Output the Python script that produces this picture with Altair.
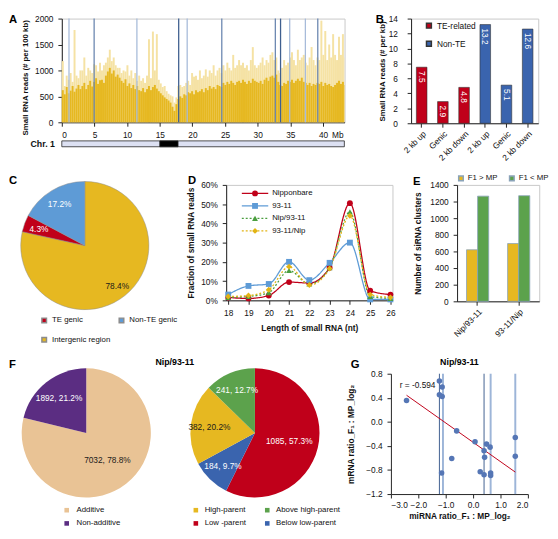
import altair as alt
import pandas as pd

FONT = "Liberation Sans"
FS = 8.5
RED = "#C0001A"
BLUE = "#3A64AE"
LBLUE = "#5E9BD6"
GOLD = "#E6B821"
PALE = "#F5E2A4"
GREEN = "#5CA24C"
PURPLE = "#5B2D82"
TAN = "#E9C395"
DOT = "#5576B5"

# ---------------- Panel A data (300 kb bins along Chr. 1) ----------------
bin_mb = 0.3
chr_len = 43.27
cen_start, cen_end = 15.0, 17.8
chr1_dark = [
    620, 540, 680, 560, 610, 700, 590, 650, 720, 640,
    700, 760, 640, 720, 800, 690, 780, 850, 740, 810,
    820, 760, 900, 980, 1050, 940, 1000, 880, 920, 860,
    800, 760, 830, 700, 750, 660, 720, 640, 700, 620,
    600, 660, 580, 640, 700, 620, 680, 720, 650, 600,
    560, 520, 480, 450, 420, 380, 300, 220, 350, 450,
    500, 470, 540, 520, 580, 560, 600, 540, 620, 580,
    600, 640, 580, 660, 620, 700, 650, 680, 640, 720,
    700, 680, 760, 720, 780, 740, 800, 760, 720, 780,
    800, 760, 820, 780, 740, 800, 760, 840, 800, 780,
    760, 800, 740, 820, 860, 800, 880, 900, 860, 920,
    780, 720, 700, 760, 740, 800, 780, 820, 760, 800,
    840, 800, 860, 780, 760, 720, 760, 700, 740, 720,
    760, 740, 780, 700, 760, 720, 740, 700, 680, 720,
    760, 800, 740, 780, 720]
chr1_light = [
    1180, 700, 900, 820, 950, 780, 1780, 900, 850, 1000,
    1000, 1250, 900, 1050, 1000, 950, 1120, 1100, 980, 1150,
    1000, 1100, 1150, 1250, 1400, 1180, 1250, 1100, 1050, 1050,
    950, 1000, 980, 1100, 900, 1000, 850, 950, 800, 900,
    800, 850, 760, 900, 1600, 850, 1750, 1000, 1700, 820,
    750, 680, 700, 600, 550, 520, 500, 380, 480, 700,
    720, 680, 700, 760, 800, 720, 950, 880, 900, 820,
    1000, 850, 900, 1020, 880, 1000, 950, 1100, 900, 1000,
    1050, 950, 1100, 1000, 1150, 1050, 1000, 1300, 1050, 1100,
    1200, 1100, 1150, 1050, 1100, 1000, 1200, 1450, 1100, 1050,
    1100, 1150, 1250, 1100, 1200, 1150, 1300, 1350, 1200, 1250,
    1000, 950, 1050, 1200, 1100, 1150, 1250, 1350, 1200, 1100,
    1400, 1200, 1250, 1300, 1150, 1100, 1250, 1450, 1200, 1100,
    1250, 1200, 1960, 1300, 1760, 1200, 1500, 1250, 1700, 1300,
    1200, 1650, 1300, 1700, 1250]
mirna_pos = [1.1, 4.95, 11.5, 17.9, 19.2, 24.5, 32.7, 33.5, 34.9, 37.3, 39.2]
mirna_tone = ["light", "mid", "light", "dark", "light", "mid", "mid", "dark", "light", "light", "mid"]

# ---------------- Panel B ----------------
b_groups = ["TE-related"] * 3 + ["Non-TE"] * 3
b_regions = ["2 kb up", "Genic", "2 kb down"] * 2
b_values = [7.5, 2.9, 4.8, 13.2, 5.1, 12.6]

# ---------------- Panel C ----------------
c_cats = ["Intergenic region", "TE genic", "Non-TE genic"]
c_pct = [78.4, 4.3, 17.2]
c_legend = ["TE genic", "Intergenic region", "Non-TE genic"]   # column-major legend order

# ---------------- Panel D ----------------
d_lengths = [18, 19, 20, 21, 22, 23, 24, 25, 26]
d_series = ["Nipponbare", "93-11", "Nip/93-11", "93-11/Nip"]
d_nip = [1.5, 1.0, 2.5, 9.5, 9.0, 17.0, 50.5, 5.0, 3.0]
d_9311 = [3.0, 7.5, 8.5, 20.0, 10.5, 19.5, 30.0, 0.5, 0.5]
d_nip9311 = [1.5, 2.0, 4.0, 15.5, 8.5, 17.0, 46.0, 2.0, 1.0]
d_9311nip = [2.0, 2.5, 5.5, 17.5, 8.0, 16.5, 44.0, 3.0, 1.5]

# ---------------- Panel E ----------------
e_hybrids = ["Nip/93-11", "93-11/Nip"]
e_cmp = ["F1 > MP", "F1 < MP"]
e_up = [620, 695]
e_down = [1265, 1270]

# ---------------- Panel F ----------------
f1_cats = ["Additive", "Non-additive"]
f1_n = [7032, 1892]
f1_pct = [78.8, 21.2]
f2_cats = ["Low -parent", "Below low-parent", "High-parent", "Above high-parent"]
f2_n = [1085, 184, 382, 241]
f2_pct = [57.3, 9.7, 20.2, 12.7]
f2_legend = ["High-parent", "Low -parent", "Above high-parent", "Below low-parent"]  # column-major

# ---------------- Panel G ----------------
g_x = [-2.43, -1.23, -1.23, -1.13, -1.13, -1.15, -0.60, -0.78, 0.07, 0.26,
       0.40, 0.40, 0.42, 0.49, 0.62, 0.64, 0.64, 1.54, 1.54]
g_y = [0.355, 0.68, 0.45, 0.58, 0.42, -0.85, -0.15, -0.61, -0.33, -0.83,
       -0.88, -0.48, -0.59, -0.37, -0.42, -0.85, -0.89, -0.26, -0.57]
g_lines = [-1.23, -1.10, 0.40, 0.64, 1.54]
g_tone = ["dark", "light", "dark", "light", "light"]
g_r = "r = -0.594"


def letter(ch, x, y):
    return alt.Chart(pd.DataFrame({"t": [ch]})).mark_text(
        font=FONT, fontSize=11.5, fontWeight="bold", align="left", baseline="top", color="black"
    ).encode(text="t:N", x=alt.value(x), y=alt.value(y))


def pie_labels(df, total, big_r, small_r, dark_cat):
    """Slice labels at the middle angle of each slice (cumulative sum computed in Vega)."""
    return alt.Chart(df).transform_window(
        cum="sum(pct)", sort=[alt.SortField("ord")], frame=[None, 0]
    ).transform_calculate(
        mid="datum.cum - datum.pct / 2", r=f"datum.pct > 50 ? {big_r} : {small_r}"
    ).mark_text(fontSize=FS, font=FONT).encode(
        theta=alt.Theta("mid:Q", stack=None, scale=alt.Scale(domain=[0, total])),
        radius=alt.Radius("r:Q", scale=None),
        text="label:N",
        color=alt.condition(f"datum.cat == '{dark_cat}'", alt.value("#1a1a1a"), alt.value("white")))


NOSTROKE = alt.ViewBackground(stroke="transparent")

# ================= Panel A =================
HA = 106
starts = [round(i * bin_mb, 2) for i in range(len(chr1_dark))]
ends = [min(round(s + bin_mb, 2), chr_len) for s in starts]
dfA = pd.DataFrame({"start": starts, "end": ends, "dark": chr1_dark, "light": chr1_light})
xA_scale = alt.Scale(domain=[0, 43.3], nice=False, zero=False)
xA_axis = alt.Axis(values=[0, 5, 10, 15, 20, 25, 30, 35, 40, 42.2],
                   labelExpr="datum.value > 41 ? 'Mb' : datum.label",
                   tickColor={"condition": {"test": "datum.value > 41", "value": "transparent"}, "value": "#222"},
                   title=None)
yA_axis = alt.Axis(values=[0, 500, 1000, 1500, 2000], format="d", title="Small RNA reads (# per 100 kb)",
                   titlePadding=5, titleFontSize=8, titleY=60)
yA_scale = alt.Scale(domain=[0, 2000])
a_light = alt.Chart(dfA).mark_rect(color=PALE).encode(
    x=alt.X("start:Q", scale=xA_scale, axis=xA_axis), x2="end:Q",
    y=alt.Y("light:Q", scale=yA_scale, axis=yA_axis), y2=alt.datum(0))
a_dark = alt.Chart(dfA).mark_rect(color=GOLD).encode(
    x=alt.X("start:Q", scale=xA_scale, axis=xA_axis), x2="end:Q",
    y=alt.Y("dark:Q", scale=yA_scale, axis=yA_axis), y2=alt.datum(0))
dfAL = pd.DataFrame({"pos": mirna_pos, "tone": mirna_tone})
a_rules = alt.Chart(dfAL).mark_rule(strokeWidth=1.3).encode(
    x=alt.X("pos:Q", scale=xA_scale, axis=xA_axis),
    color=alt.Color("tone:N", scale=alt.Scale(domain=["dark", "mid", "light"],
                                              range=["#3F5F8F", "#6A86B0", "#A7BBDA"]), legend=None))
dfS = pd.DataFrame({"s": [0, cen_start], "e": [chr_len, cen_end], "part": ["arm", "centromere"]})
a_strip = alt.Chart(dfS).mark_rect(strokeWidth=0.8, stroke="#222").encode(
    x=alt.X("s:Q", scale=xA_scale, axis=xA_axis), x2="e:Q",
    y=alt.value(HA + 19), y2=alt.value(HA + 25),
    fill=alt.Fill("part:N", scale=alt.Scale(domain=["arm", "centromere"], range=["#DCE0F2", "#000000"]), legend=None))
a_chr = alt.Chart(pd.DataFrame({"t": ["Chr. 1"]})).mark_text(
    font=FONT, fontSize=9, fontWeight="bold", align="right", baseline="middle", color="#111"
).encode(text="t:N", x=alt.value(-7), y=alt.value(HA + 22))
A = alt.layer(a_light, a_dark, a_rules, a_strip, a_chr, letter("A", -54, -4.5)).properties(width=289, height=HA)

# ================= Panel B =================
b_keys = [f"{g}|{r}" for g, r in zip(b_groups, b_regions)]
dfB = pd.DataFrame({"key": b_keys, "group": b_groups, "val": b_values})
xB = alt.X("key:N", sort=b_keys, scale=alt.Scale(paddingInner=0.5, paddingOuter=0.25),
           axis=alt.Axis(labelExpr="split(datum.label, '|')[1]", labelAngle=-45, title=None, labelPadding=2))
yB = alt.Y("val:Q", scale=alt.Scale(domain=[0, 14]),
           axis=alt.Axis(values=list(range(0, 15, 2)), title="Small RNA reads (# per kb)", labelPadding=10,
                         titlePadding=2, titleFontSize=8))
b_bars = alt.Chart(dfB).mark_bar(stroke="#333333", strokeWidth=0.6).encode(
    x=xB, y=yB,
    color=alt.Color("group:N", scale=alt.Scale(domain=["TE-related", "Non-TE"], range=[RED, BLUE]),
                    legend=alt.Legend(orient="none", legendX=14, legendY=3, title=None, symbolType="square",
                                      symbolSize=25, rowPadding=6.5, labelOffset=4)))
b_text = alt.Chart(dfB).mark_text(angle=90, align="left", baseline="middle", dx=4, color="white",
                                  fontSize=FS, font=FONT).encode(x=xB, y=yB, text=alt.Text("val:Q", format=".1f"))
B = alt.layer(b_bars, b_text, letter("B", -36, -4.5)).properties(width=130, height=HA + 1)

row1 = alt.hconcat(A, B, spacing=68, bounds="flush").resolve_scale(color="independent", fill="independent")

# ================= Panel C =================
dfC = pd.DataFrame({"cat": c_cats, "pct": c_pct, "ord": list(range(len(c_cats)))})
dfC["label"] = [f"{v:.1f}%" for v in c_pct]
c_arc = alt.Chart(dfC).mark_arc(outerRadius=65.5, stroke="#8c8c8c", strokeWidth=0.5).encode(
    theta=alt.Theta("pct:Q", stack=True, scale=alt.Scale(domain=[0, sum(c_pct)])),
    order=alt.Order("ord:Q"),
    color=alt.Color("cat:N", scale=alt.Scale(domain=c_legend, range=[RED, GOLD, LBLUE]),
                    legend=alt.Legend(orient="none", legendX=-22, legendY=134.5, columns=2,
                                      gridAlign="none", columnPadding=5, rowPadding=7.8, labelOffset=4,
                                      symbolType="square", symbolSize=22, title=None, labelFontSize=8)))
c_txt = pie_labels(dfC, sum(c_pct), 53, 50, "Intergenic region")
C = alt.layer(c_arc, c_txt, letter("C", -54, -10)).properties(width=47, height=124, view=NOSTROKE)

# ================= Panel D =================
rows = []
for s, vals in zip(d_series, [d_nip, d_9311, d_nip9311, d_9311nip]):
    for L, v in zip(d_lengths, vals):
        rows.append({"series": s, "len": L, "pct": v})
dfD = pd.DataFrame(rows)
d_cols = [RED, LBLUE, "#4A9E3F", "#E2B414"]
d_stroke = alt.Stroke("series:N", scale=alt.Scale(domain=d_series, range=d_cols), legend=None)
d_dash = alt.StrokeDash("series:N", scale=alt.Scale(domain=d_series, range=[[1, 0], [1, 0], [2, 2], [2, 2]]), legend=None)
d_fill = alt.Fill("series:N", scale=alt.Scale(domain=d_series, range=d_cols), legend=None)
d_shape = alt.Shape("series:N", scale=alt.Scale(domain=d_series, range=["circle", "square", "triangle-up", "diamond"]),
                    legend=None)
xD = alt.X("len:Q", scale=alt.Scale(domain=[17.9, 26.1], nice=False, zero=False),
           axis=alt.Axis(values=d_lengths, title="Length of small RNA (nt)", titlePadding=6, format="d"))
yD_scale = alt.Scale(domain=[0, 60])
yD = alt.Y("pct:Q", scale=yD_scale,
           axis=alt.Axis(values=[0, 10, 20, 30, 40, 50, 60], labelExpr="datum.value + '%'",
                         title="Fraction of small RNA reads", titlePadding=5))
d_lines = alt.Chart(dfD).mark_line(interpolate="monotone", strokeWidth=1.3).encode(
    x=xD, y=yD, stroke=d_stroke, strokeDash=d_dash)
d_pts = alt.Chart(dfD).mark_point(filled=True, size=36, opacity=1).encode(
    x=xD, y=alt.Y("pct:Q", scale=yD_scale, axis=None), fill=d_fill, shape=d_shape)
# in-plot legend: one row per series on its own point scale
dfLeg = pd.DataFrame({"series": d_series})
leg_y = alt.Y("series:N", sort=d_series, scale=alt.Scale(type="point", range=[8.7, 47], padding=0), axis=None)
leg_rule = alt.Chart(dfLeg).mark_rule(strokeWidth=1.3).encode(
    x=alt.value(16), x2=alt.value(43), y=leg_y, stroke=d_stroke, strokeDash=d_dash)
leg_pt = alt.Chart(dfLeg).mark_point(filled=True, size=36, opacity=1).encode(
    x=alt.value(29.5), y=leg_y, fill=d_fill, shape=d_shape)
leg_tx = alt.Chart(dfLeg).mark_text(align="left", baseline="middle", fontSize=8, font=FONT, color="#111").encode(
    x=alt.value(47), y=leg_y, text="series:N")
D = alt.layer(d_lines, d_pts, leg_rule, leg_pt, leg_tx, letter("D", -39, -10)).resolve_scale(
    y="independent").properties(width=170, height=118)

# ================= Panel E =================
dfE = pd.DataFrame({"hybrid": e_hybrids * 2, "cmp": [e_cmp[0]] * 2 + [e_cmp[1]] * 2, "n": e_up + e_down})
e_bars = alt.Chart(dfE).mark_bar(stroke="#8AA3B8", strokeWidth=0.8).encode(
    x=alt.X("hybrid:N", sort=e_hybrids, scale=alt.Scale(paddingInner=0.46, paddingOuter=0.23),
            axis=alt.Axis(labelAngle=-45, title=None, labelPadding=2)),
    xOffset=alt.XOffset("cmp:N", sort=e_cmp),
    y=alt.Y("n:Q", scale=alt.Scale(domain=[0, 1400]),
            axis=alt.Axis(values=list(range(0, 1401, 200)), format="d", title="Number of siRNA clusters", titlePadding=7)),
    color=alt.Color("cmp:N", scale=alt.Scale(domain=e_cmp, range=[GOLD, GREEN]),
                    legend=alt.Legend(orient="none", direction="horizontal", legendX=0, legendY=-11, title=None,
                                      symbolType="square", symbolSize=22, columnPadding=8, labelOffset=3,
                                      labelFontSize=8)))
E = alt.layer(e_bars, letter("E", -45, -9)).properties(width=84, height=119)

DE = alt.hconcat(D, E, spacing=66, bounds="flush").resolve_scale(
    color="independent", fill="independent", shape="independent", stroke="independent", strokeDash="independent")
row2 = alt.hconcat(C, DE, spacing=121, bounds="flush").resolve_scale(
    color="independent", fill="independent", shape="independent", stroke="independent", strokeDash="independent",
    theta="independent")

# ================= Panel F =================
dfF1 = pd.DataFrame({"cat": f1_cats, "n": f1_n, "pct": f1_pct, "ord": list(range(len(f1_cats)))})
dfF1["label"] = [f"{n}, {p:.1f}%" for n, p in zip(f1_n, f1_pct)]
f1_arc = alt.Chart(dfF1).mark_arc(outerRadius=66).encode(
    theta=alt.Theta("pct:Q", stack=True, scale=alt.Scale(domain=[0, sum(f1_pct)])),
    order=alt.Order("ord:Q"),
    color=alt.Color("cat:N", scale=alt.Scale(domain=f1_cats, range=[TAN, PURPLE]),
                    legend=alt.Legend(orient="none", legendX=1, legendY=135.5, title=None, symbolType="square",
                                      symbolSize=22, rowPadding=5.5, labelOffset=6, labelFontSize=8)))
f1_txt = pie_labels(dfF1, sum(f1_pct), 35, 45, "Additive")
F1 = alt.layer(f1_arc, f1_txt, letter("F", -54, -15)).properties(width=50, height=121, view=NOSTROKE)

dfF2 = pd.DataFrame({"cat": f2_cats, "n": f2_n, "pct": f2_pct, "ord": list(range(len(f2_cats)))})
dfF2["label"] = [f"{n}, {p:.1f}%" for n, p in zip(f2_n, f2_pct)]
f2_arc = alt.Chart(dfF2).mark_arc(outerRadius=66).encode(
    theta=alt.Theta("pct:Q", stack=True, scale=alt.Scale(domain=[0, sum(f2_pct)])),
    order=alt.Order("ord:Q"),
    color=alt.Color("cat:N", scale=alt.Scale(domain=f2_legend, range=[GOLD, RED, GREEN, BLUE]),
                    legend=alt.Legend(orient="none", legendX=-30.6, legendY=135.5, title=None, symbolType="square",
                                      symbolSize=22, rowPadding=5.5, labelOffset=5, columns=2, gridAlign="each",
                                      columnPadding=17, labelFontSize=8)))
f2_txt = pie_labels(dfF2, sum(f2_pct), 36, 47, "High-parent")
F2 = alt.layer(f2_arc, f2_txt).properties(
    width=67.6, height=121, view=NOSTROKE,
    title=alt.TitleParams("Nip/93-11", fontSize=9, fontWeight="bold", anchor="middle", frame="group",
                          dx=-82, offset=1.5, font=FONT))

# ================= Panel G =================
dfG = pd.DataFrame({"x": g_x, "y": g_y})
dfGL = pd.DataFrame({"x": g_lines, "tone": g_tone})
xG = alt.X("x:Q", scale=alt.Scale(domain=[-3, 2], nice=False),
           axis=alt.Axis(values=[-3, -2, -1, 0, 1, 2], format=".1f", title="miRNA ratio_F₁ : MP_log₂",
                         labelPadding=3, titlePadding=2))
yG = alt.Y("y:Q", scale=alt.Scale(domain=[-1.2, 0.8], nice=False),
           axis=alt.Axis(values=[-1.2, -0.8, -0.4, 0, 0.4, 0.8], format=".1f", title="mRNA ratio_F₁ : MP_log₂",
                         titlePadding=10))
g_rl = alt.Chart(dfGL).transform_filter("datum.tone == 'light'").mark_rule(color="#9DB5D8", strokeWidth=2).encode(x=xG)
g_rd = alt.Chart(dfGL).transform_filter("datum.tone == 'dark'").mark_rule(color="#3F5F8F", strokeWidth=1).encode(x=xG)
g_pts = alt.Chart(dfG).mark_circle(size=32, color=DOT, opacity=1).encode(x=xG, y=yG)
g_reg = alt.Chart(dfG).transform_regression("x", "y").mark_line(color="#C0001A", strokeWidth=1).encode(x=xG, y=yG)
g_txt = alt.Chart(pd.DataFrame({"t": [g_r]})).mark_text(align="left", baseline="middle", fontSize=FS, font=FONT,
                                                        color="#111").encode(text="t:N", x=alt.value(9), y=alt.value(12))
G = alt.layer(g_rl, g_rd, g_reg, g_pts, g_txt, letter("G", -41, -15)).properties(
    width=140, height=123, view=NOSTROKE,
    title=alt.TitleParams("Nip/93-11", fontSize=9, fontWeight="bold", anchor="middle", offset=-8, font=FONT))

F2G = alt.hconcat(F2, G, spacing=104.8, bounds="flush").resolve_scale(color="independent", theta="independent")
row3 = alt.hconcat(F1, F2G, spacing=113.6, bounds="flush").resolve_scale(color="independent", theta="independent")

chart = alt.vconcat(row1, row2, row3, spacing=11).resolve_scale(
    color="independent", fill="independent", shape="independent", stroke="independent",
    strokeDash="independent", theta="independent"
).properties(padding=0)

chart = chart.configure(font=FONT).configure_view(stroke="#C8C8C8", strokeWidth=1).configure_axis(
    labelFont=FONT, titleFont=FONT, labelFontSize=FS, titleFontSize=FS, titleFontWeight="bold",
    labelColor="#111", titleColor="#111", domainColor="#222", tickColor="#222", tickSize=4,
    labelPadding=5, grid=False
).configure_legend(labelFont=FONT, labelFontSize=FS, labelColor="#111").configure_title(font=FONT)

chart.save("out.html", embed_options={"renderer": "svg", "actions": False})
